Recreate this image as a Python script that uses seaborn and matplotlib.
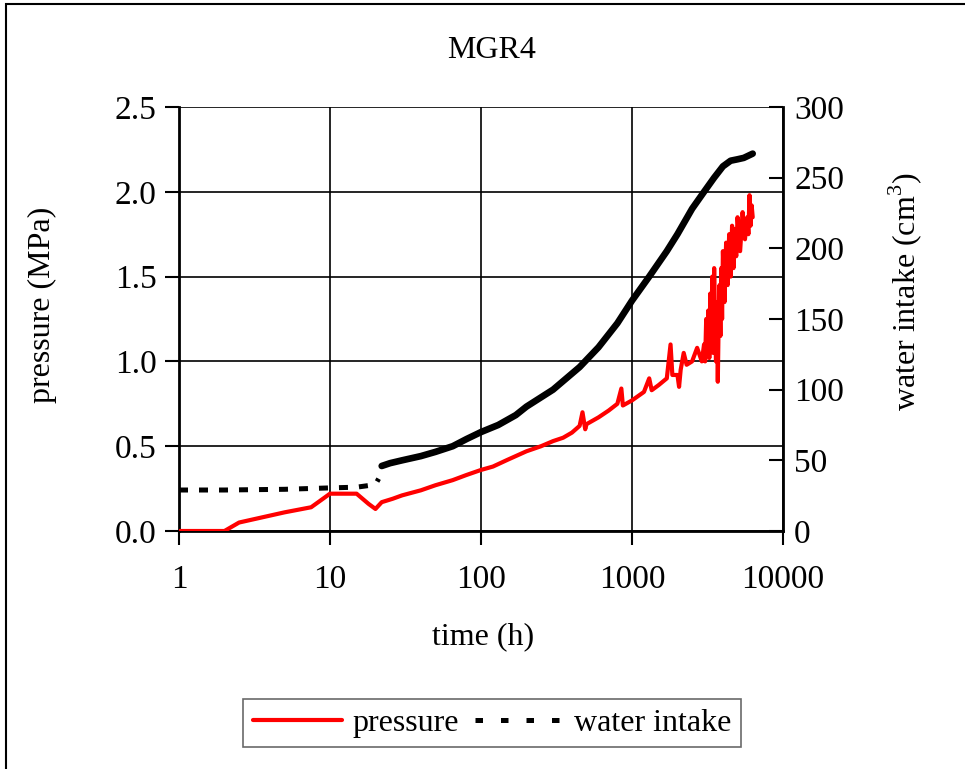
import matplotlib
matplotlib.use("Agg")
import matplotlib.pyplot as plt
import seaborn as sns
import pandas as pd
from matplotlib.ticker import FixedLocator, FixedFormatter, NullLocator
from matplotlib.patches import Rectangle
from matplotlib.lines import Line2D

# ---------------- data ----------------
title = "MGR4"
x_label = "time (h)"
y_label = "pressure (MPa)"
y2_label = r"water intake (cm$^{\mathrm{3}}$)"
x_ticks = [1, 10, 100, 1000, 10000]
x_tick_labels = ["1", "10", "100", "1000", "10000"]
y_ticks = [0.0, 0.5, 1.0, 1.5, 2.0, 2.5]
y_tick_labels = ["0.0", "0.5", "1.0", "1.5", "2.0", "2.5"]
y2_ticks = [0, 50, 100, 150, 200, 250, 300]

p_time = [1, 2, 2.5, 5, 7.5, 10, 15, 18, 20, 22, 26, 30, 33, 40, 50, 65, 80,
          100, 120, 150, 200, 250, 300, 350, 400, 450, 470, 490, 500, 600, 700,
          800, 850, 870, 1000, 1200, 1300, 1350, 1500, 1700, 1800, 1850, 2000,
          2050, 2100, 2200, 2300, 2500, 2700, 2900,
          3000, 3050, 3100, 3150, 3200, 3250, 3300, 3350, 3400, 3450, 3500,
          3550, 3600, 3650, 3700, 3750, 3800, 3850, 3900, 3950, 4000, 4100,
          4200, 4300, 4400, 4500, 4600, 4700, 4800, 4900, 5000, 5200, 5400,
          5600, 5800, 5900, 6000, 6100, 6200, 6300]
pressure = [0.0, 0.0, 0.05, 0.11, 0.14, 0.22, 0.22, 0.16, 0.13, 0.17, 0.19,
            0.21, 0.22, 0.24, 0.27, 0.30, 0.33, 0.36, 0.38, 0.42, 0.47, 0.50,
            0.53, 0.55, 0.58, 0.62, 0.70, 0.60, 0.63, 0.67, 0.71, 0.75, 0.84,
            0.74, 0.77, 0.82, 0.90, 0.83, 0.86, 0.90, 1.10, 0.92, 0.92, 0.85,
            0.95, 1.05, 0.98, 1.00, 1.08, 1.00,
            1.10, 1.00, 1.25, 1.05, 1.30, 1.02, 1.40, 1.10, 1.50, 1.05, 1.55,
            1.20, 1.00, 1.35, 0.88, 1.25, 1.45, 1.15, 1.55, 1.25, 1.65, 1.35,
            1.70, 1.45, 1.75, 1.50, 1.80, 1.55, 1.78, 1.62, 1.85, 1.65, 1.88,
            1.72, 1.85, 1.75, 1.98, 1.80, 1.92, 1.85]

w_time_early = [1, 2, 5, 10, 15, 19, 20, 21]
water_early = [29, 29, 29.5, 30.5, 31, 32.5, 33, 37]
w_time_late = [22, 25, 30, 40, 50, 65, 80, 100, 130, 170, 200, 300, 450, 600,
               800, 1000, 1300, 1700, 2000, 2500, 3000, 3500, 4000, 4500, 5000,
               5500, 6300]
water_late = [46, 48, 50, 53, 56, 60, 65, 70, 75, 82, 88, 100, 116, 130, 147,
              163, 180, 198, 210, 228, 240, 250, 258, 262, 263, 264, 267]

# ---------------- style ----------------
sns.set_theme(style="white")
plt.rcParams["font.family"] = ["Liberation Serif", "DejaVu Serif"]
plt.rcParams["mathtext.fontset"] = "custom"
plt.rcParams["mathtext.rm"] = "Liberation Serif"
plt.rcParams["text.color"] = "black"
plt.rcParams["axes.labelcolor"] = "black"
FS = 23
TFS = 24

W, H = 965, 769
fig = plt.figure(figsize=(W / 100, H / 100), dpi=100)
ax = fig.add_axes([179 / W, 1 - 531 / H, (783 - 179) / W, (531 - 107) / H])
ax2 = ax.twinx()

df_p = pd.DataFrame({"t": p_time, "p": pressure})
df_we = pd.DataFrame({"t": w_time_early, "w": water_early})
df_wl = pd.DataFrame({"t": w_time_late, "w": water_late})

sns.lineplot(data=df_p, x="t", y="p", ax=ax, color="#ff0000", lw=3.0,
             sort=False, estimator=None, zorder=3)
sns.lineplot(data=df_we, x="t", y="w", ax=ax2, color="black", lw=3.6,
             sort=False, estimator=None, dashes=False,
             linestyle=(0, (1.8, 2.2)))
sns.lineplot(data=df_wl, x="t", y="w", ax=ax2, color="black", lw=4.8,
             sort=False, estimator=None)

ax.set_xscale("log")
ax.set_xlim(1, 10000)
ax.set_ylim(0, 2.5)
ax2.set_ylim(0, 300)
ax.xaxis.set_major_locator(FixedLocator(x_ticks))
ax.xaxis.set_major_formatter(FixedFormatter(x_tick_labels))
ax.xaxis.set_minor_locator(NullLocator())
ax.yaxis.set_major_locator(FixedLocator(y_ticks))
ax.yaxis.set_major_formatter(FixedFormatter(y_tick_labels))
ax2.yaxis.set_major_locator(FixedLocator(y2_ticks))
ax2.yaxis.set_minor_locator(NullLocator())

ax.grid(True, which="major", color="black", lw=1.2)
ax2.grid(False)
ax.set_axisbelow(True)

for s in ["top", "right"]:
    ax.spines[s].set_visible(False)
for s in ["left", "bottom"]:
    ax.spines[s].set_color("black")
    ax.spines[s].set_linewidth(2)
for s in ["left", "top", "bottom"]:
    ax2.spines[s].set_visible(False)
ax2.spines["right"].set_color("black")
ax2.spines["right"].set_linewidth(2)

ax.tick_params(axis="both", which="major", direction="out", length=10,
               width=1.5, colors="black", labelsize=TFS, left=True, bottom=True)
ax.tick_params(axis="y", pad=6)
ax.tick_params(axis="x", pad=14)
ax2.tick_params(axis="y", which="major", direction="in", length=10,
                width=1.5, colors="black", labelsize=TFS, right=True, pad=8)

ax.set_xlabel("")
ax.set_ylabel("")
ax2.set_ylabel("")
fig.text(483 / W, 1 - 637 / H, x_label, ha="center", va="center",
         fontsize=FS, color="black")
fig.text(42 / W, 1 - 305 / H, y_label, ha="center", va="center",
         fontsize=FS, rotation=90, color="black")
fig.text(905 / W, 1 - 292 / H, y2_label, ha="center", va="center",
         fontsize=FS, rotation=90, color="black")
fig.text(492 / W, 1 - 50 / H, title, ha="center", va="center",
         fontsize=FS, color="black")

handles = [Line2D([], [], color="#ff0000", lw=3.0),
           Line2D([], [], color="black", lw=3.6, linestyle=(0.0, (1.5, 3.6)))]
leg = fig.legend(handles, ["pressure", "water intake"], loc="center",
                 bbox_to_anchor=(492 / W, 1 - 723 / H), ncol=2, fontsize=FS,
                 frameon=True, fancybox=False, edgecolor="#444444",
                 handlelength=2.8, handletextpad=0.3, columnspacing=0.5,
                 borderpad=0.3)
leg.get_frame().set_linewidth(1.2)
for t in leg.get_texts():
    t.set_color("black")

fig.add_artist(Rectangle((6 / W, -0.1), 1.2, 1.1 - 4 / H,
                         transform=fig.transFigure, fill=False,
                         lw=1.5, ec="black"))

fig.savefig("out.png", dpi=100)
